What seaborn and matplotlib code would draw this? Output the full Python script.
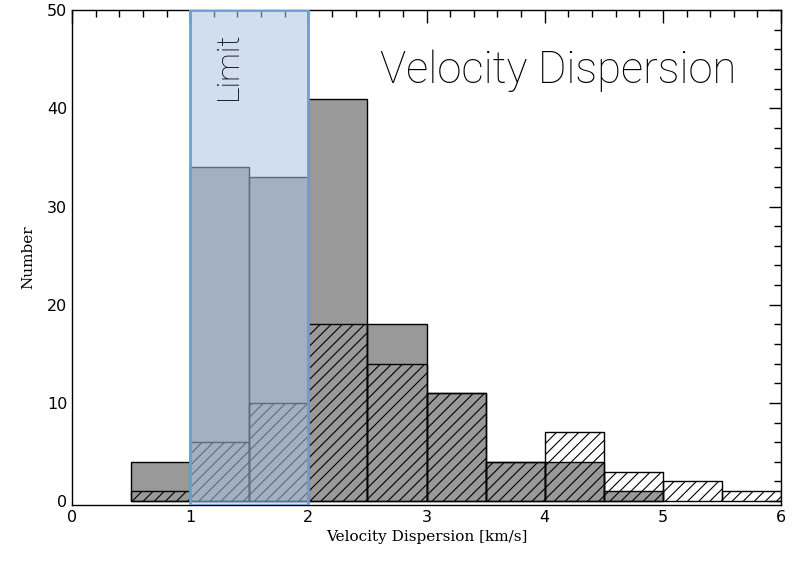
import numpy as np
import pandas as pd
import matplotlib
matplotlib.use("Agg")
import matplotlib.pyplot as plt
import seaborn as sns
from matplotlib.ticker import MultipleLocator

# Data
bin_edges = [0.0, 0.5, 1.0, 1.5, 2.0, 2.5, 3.0, 3.5, 4.0, 4.5, 5.0, 5.5, 6.0]
bin_centers = [0.25, 0.75, 1.25, 1.75, 2.25, 2.75, 3.25, 3.75, 4.25, 4.75, 5.25, 5.75]
gray_counts = [0, 4, 34, 33, 41, 18, 11, 4, 4, 1, 0, 0]
hatched_counts = [0, 1, 6, 10, 18, 14, 11, 4, 7, 3, 2, 1]
limit_range = [1.0, 2.0]

sns.set_style("white")
plt.rcParams['hatch.linewidth'] = 0.8
plt.rcParams['text.color'] = 'black'
plt.rcParams['axes.labelcolor'] = 'black'

fig = plt.figure(figsize=(7.94, 5.63), dpi=100)
ax = fig.add_axes([0.0907, 0.103, 0.893, 0.879])

df = pd.DataFrame({"v": bin_centers, "gray": gray_counts, "hatch": hatched_counts})

sns.histplot(data=df, x="v", weights="gray", bins=bin_edges, ax=ax,
             color="#999999", alpha=1.0, edgecolor="black", linewidth=1.0)
sns.histplot(data=df, x="v", weights="hatch", bins=bin_edges, ax=ax,
             fill=False, color="black", edgecolor="black", linewidth=1.0, hatch="///")

# hide empty bins
for p in ax.patches:
    if p.get_height() == 0:
        p.set_visible(False)

ax.axvspan(limit_range[0], limit_range[1], facecolor="#aac4e4",
           alpha=0.55, edgecolor="none", zorder=5)
ax.axvspan(limit_range[0], limit_range[1], facecolor="none",
           edgecolor="#6a9fd8", linewidth=2, zorder=6)

ax.set_xlim(0, 6)
ax.set_ylim(-0.4, 50)

ax.xaxis.set_major_locator(MultipleLocator(1))
ax.xaxis.set_minor_locator(MultipleLocator(0.2))
ax.yaxis.set_major_locator(MultipleLocator(10))
ax.yaxis.set_minor_locator(MultipleLocator(2))
ax.tick_params(which="both", direction="in", top=True, right=True, colors="black")
ax.tick_params(which="major", length=9, width=1)
ax.tick_params(which="minor", length=5, width=1)
for s in ax.spines.values():
    s.set_color("black")
    s.set_linewidth(1)

serif = "DejaVu Serif"
for lab in ax.get_xticklabels() + ax.get_yticklabels():
    lab.set_fontfamily("DejaVu Sans")
    lab.set_fontsize(11.5)

ax.set_xlabel("Velocity Dispersion [km/s]", fontfamily=serif, fontsize=11, labelpad=4)
ax.set_ylabel("Number", fontfamily=serif, fontsize=11, labelpad=8)

ax.text(0.434, 43.8, "Velocity Dispersion", transform=ax.get_yaxis_transform(),
        fontfamily="Roboto", fontweight="light", fontsize=31.5, color="black",
        ha="left", va="center", zorder=10)
ax.text(1.32, 44.3, "Limit", rotation=90, fontfamily="Roboto", fontweight="light",
        fontsize=23, color="black", ha="center", va="center", zorder=10)

fig.savefig("out.png", dpi=100)
